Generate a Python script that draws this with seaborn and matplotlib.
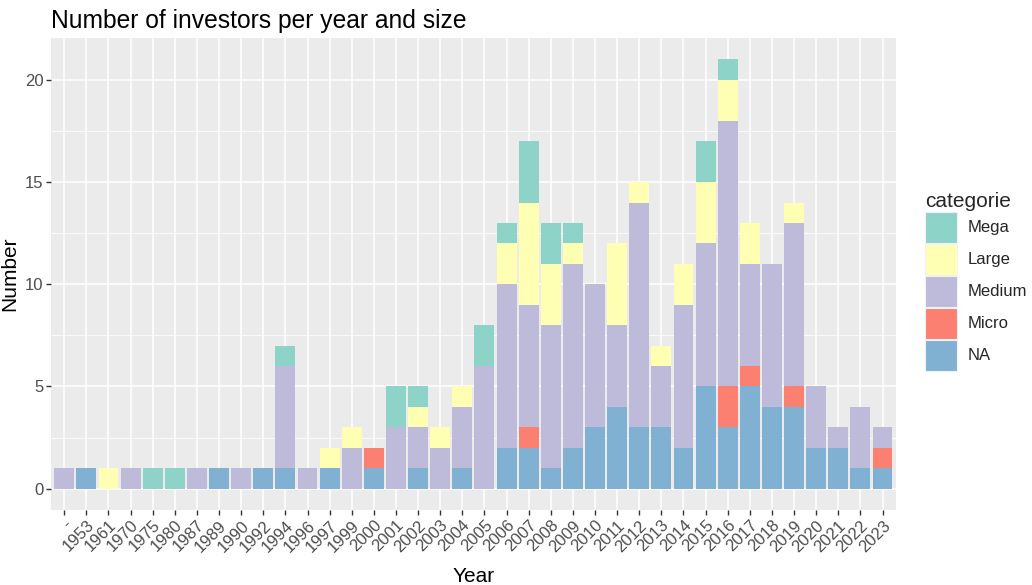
import numpy as np
import pandas as pd
import matplotlib
matplotlib.use("Agg")
import matplotlib.pyplot as plt
from matplotlib.patches import Patch
from matplotlib.ticker import MultipleLocator
import seaborn as sns

years = ["-", "1953", "1961", "1970", "1975", "1980", "1987", "1989", "1990", "1992",
         "1994", "1996", "1997", "1999", "2000", "2001", "2002", "2003", "2004", "2005",
         "2006", "2007", "2008", "2009", "2010", "2011", "2012", "2013", "2014", "2015",
         "2016", "2017", "2018", "2019", "2020", "2021", "2022", "2023"]

na_vals     = [0, 1, 0, 0, 0, 0, 0, 1, 0, 1, 1, 0, 1, 0, 1, 0, 1, 0, 1, 0,
               2, 2, 1, 2, 3, 4, 3, 3, 2, 5, 3, 5, 4, 4, 2, 2, 1, 1]
micro_vals  = [0, 0, 0, 0, 0, 0, 0, 0, 0, 0, 0, 0, 0, 0, 1, 0, 0, 0, 0, 0,
               0, 1, 0, 0, 0, 0, 0, 0, 0, 0, 2, 1, 0, 1, 0, 0, 0, 1]
medium_vals = [1, 0, 0, 1, 0, 0, 1, 0, 1, 0, 5, 1, 0, 2, 0, 3, 2, 2, 3, 6,
               8, 6, 7, 9, 7, 4, 11, 3, 7, 7, 13, 5, 7, 8, 3, 1, 3, 1]
large_vals  = [0, 0, 1, 0, 0, 0, 0, 0, 0, 0, 0, 0, 1, 1, 0, 0, 1, 1, 1, 0,
               2, 5, 3, 1, 0, 4, 1, 1, 2, 3, 2, 2, 0, 1, 0, 0, 0, 0]
mega_vals   = [0, 0, 0, 0, 1, 1, 0, 0, 0, 0, 1, 0, 0, 0, 0, 2, 1, 0, 0, 2,
               1, 3, 2, 1, 0, 0, 0, 0, 0, 2, 1, 0, 0, 0, 0, 0, 0, 0]

categories = ["Mega", "Large", "Medium", "Micro", "NA"]
colors = {"Mega": "#8DD3C7", "Large": "#FFFFB3", "Medium": "#BEBADA",
          "Micro": "#FB8072", "NA": "#80B1D3"}

df = pd.DataFrame({"Year": years, "NA": na_vals, "Micro": micro_vals,
                   "Medium": medium_vals, "Large": large_vals, "Mega": mega_vals})

# cumulative stacks (bottom -> top: NA, Micro, Medium, Large, Mega)
stack_order = ["NA", "Micro", "Medium", "Large", "Mega"]
cum = df[stack_order].cumsum(axis=1)

sns.set_theme(style="darkgrid")
plt.rcParams['font.family'] = ['Liberation Sans', 'DejaVu Sans']

fig = plt.figure(figsize=(10.32, 5.85), dpi=100)
ax = fig.add_axes([0.0494, 0.128, 0.8186, 0.807])
ax.set_facecolor("#EBEBEB")

for cat in reversed(stack_order):
    sns.barplot(x=df["Year"], y=cum[cat], color=colors[cat], order=years,
                width=0.9, saturation=1, ax=ax, linewidth=0, errorbar=None)

ax.set_xlim(-0.6, len(years) - 0.4)
ax.set_ylim(-1.05, 22.05)
ax.yaxis.set_major_locator(MultipleLocator(5))
ax.yaxis.set_minor_locator(MultipleLocator(2.5))
ax.grid(False)
ax.set_axisbelow(True)
ax.grid(which="major", axis="both", color="white", linewidth=1.1)
ax.grid(which="minor", axis="y", color="white", linewidth=0.55)
for s in ax.spines.values():
    s.set_visible(False)

ax.tick_params(axis="both", which="major", length=3.5, width=1, color="#333333",
               labelcolor="#4D4D4D", labelsize=12, pad=2, direction="out")
ax.tick_params(axis="both", which="minor", length=0)
ax.tick_params(axis="x", bottom=True)
ax.tick_params(axis="y", left=True)
ax.set_xticks(range(len(years)))
ax.set_xticklabels(years, rotation=45, ha="right", rotation_mode="anchor")

ax.set_xlabel("Year", fontsize=15, color="black", labelpad=9)
ax.set_ylabel("Number", fontsize=15, color="black", labelpad=4)
ax.set_title("Number of investors per year and size", fontsize=17.7, loc="left",
             color="black", pad=7, x=0.0)

handles = [Patch(facecolor=colors[c], edgecolor="#F2F2F2", linewidth=0.8, label=c)
           for c in categories]
leg = fig.legend(handles=handles, title="categorie", loc="upper left",
                 bbox_to_anchor=(0.896, 0.672), frameon=False, fontsize=12,
                 title_fontsize=15, handlelength=1.92, handleheight=2.48,
                 labelspacing=0.06, handletextpad=0.65, borderaxespad=0,
                 borderpad=0)
leg._legend_box.align = "left"

fig.savefig("out.png", dpi=100)
